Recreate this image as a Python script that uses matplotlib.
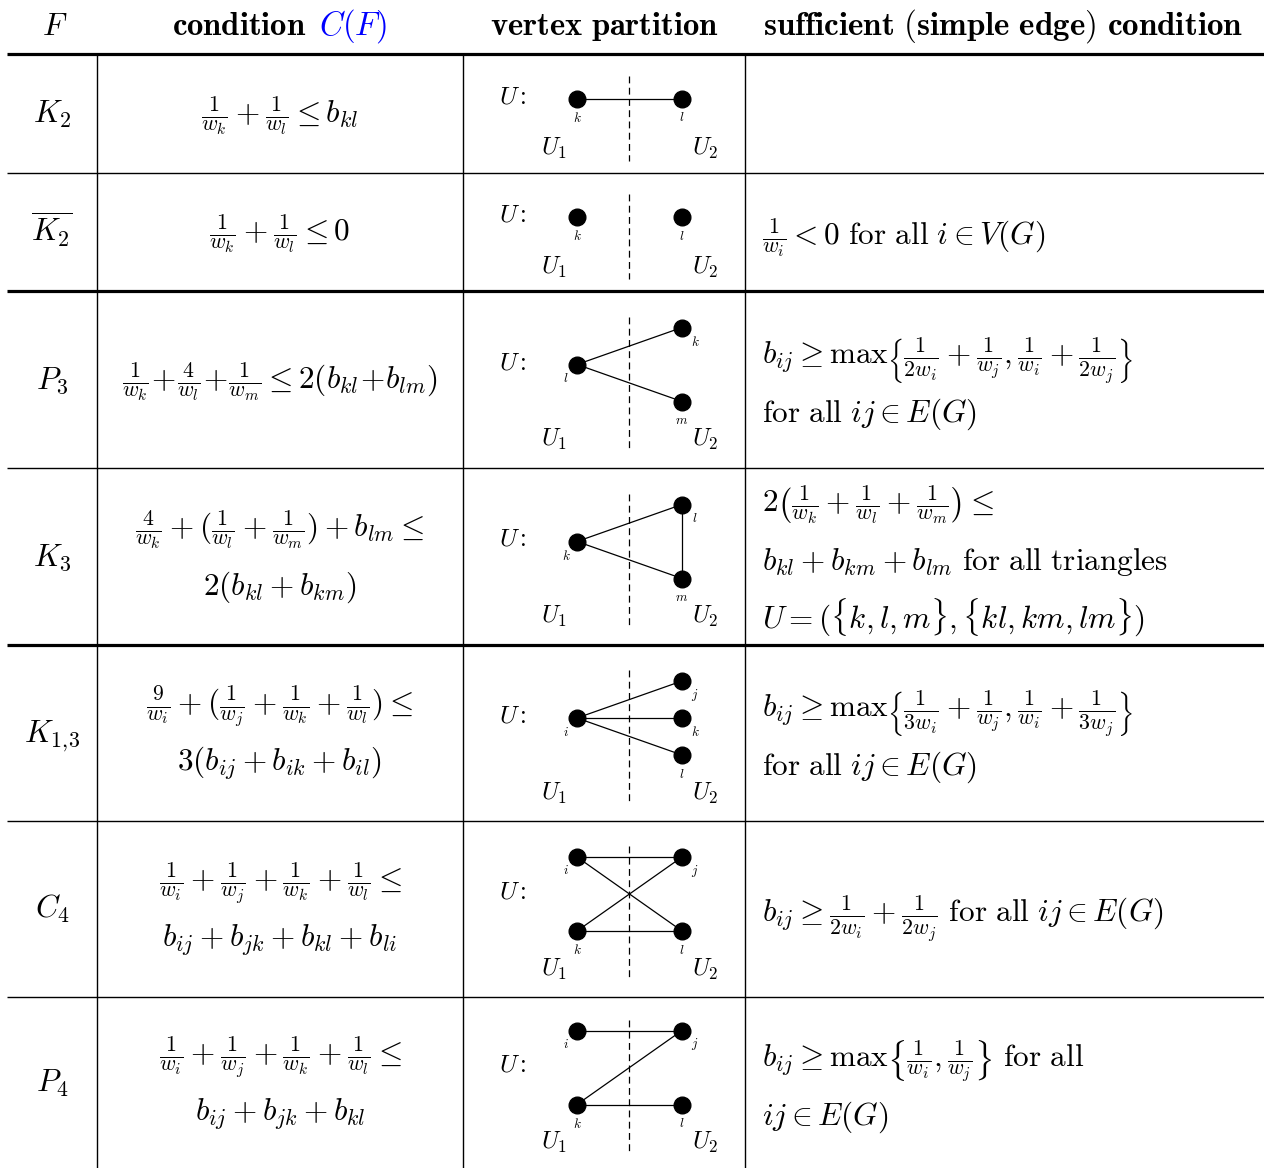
import matplotlib
matplotlib.use("Agg")
import matplotlib.pyplot as plt

plt.rcParams["mathtext.fontset"] = "cm"
plt.rcParams["font.family"] = "serif"

# ---- table content ----
families = [r"$K_2$", r"$\overline{K_2}$", r"$P_3$", r"$K_3$", r"$K_{1,\!3}$", r"$C_4$", r"$P_4$"]

conditions = [
    [r"$\frac{1}{w_k}+\frac{1}{w_l}\leq b_{kl}$"],
    [r"$\frac{1}{w_k}+\frac{1}{w_l}\leq 0$"],
    [r"$\frac{1}{w_k}\!+\!\frac{4}{w_l}\!+\!\frac{1}{w_m}\leq 2(b_{kl}\!+\!b_{lm})$"],
    [r"$\frac{4}{w_k}+(\frac{1}{w_l}+\frac{1}{w_m})+b_{lm}\leq$", r"$2(b_{kl}+b_{km})$"],
    [r"$\frac{9}{w_i}+(\frac{1}{w_j}+\frac{1}{w_k}+\frac{1}{w_l})\leq$", r"$3(b_{ij}+b_{ik}+b_{il})$"],
    [r"$\frac{1}{w_i}+\frac{1}{w_j}+\frac{1}{w_k}+\frac{1}{w_l}\leq$", r"$b_{ij}+b_{jk}+b_{kl}+b_{li}$"],
    [r"$\frac{1}{w_i}+\frac{1}{w_j}+\frac{1}{w_k}+\frac{1}{w_l}\leq$", r"$b_{ij}+b_{jk}+b_{kl}$"],
]

sufficient = [
    [],
    [r"$\frac{1}{w_i}<0\ \mathrm{for\ all}\ i\in V(G)$"],
    [r"$b_{ij}\geq\max\left\{\frac{1}{2w_i}+\frac{1}{w_j},\frac{1}{w_i}+\frac{1}{2w_j}\right\}$",
     r"$\mathrm{for\ all}\ ij\in E(G)$"],
    [r"$2\left(\frac{1}{w_k}+\frac{1}{w_l}+\frac{1}{w_m}\right)\leq$",
     r"$b_{kl}+b_{km}+b_{lm}\ \mathrm{for\ all\ triangles}$",
     r"$U=(\{k,l,m\},\{kl,km,lm\})$"],
    [r"$b_{ij}\geq\max\left\{\frac{1}{3w_i}+\frac{1}{w_j},\frac{1}{w_i}+\frac{1}{3w_j}\right\}$",
     r"$\mathrm{for\ all}\ ij\in E(G)$"],
    [r"$b_{ij}\geq\frac{1}{2w_i}+\frac{1}{2w_j}\ \mathrm{for\ all}\ ij\in E(G)$"],
    [r"$b_{ij}\geq\max\left\{\frac{1}{w_i},\frac{1}{w_j}\right\}\ \mathrm{for\ all}$",
     r"$ij\in E(G)$"],
]

# graphs: vertices in U1 and U2 (top to bottom) and edges
left_vertices = [["k"], ["k"], ["l"], ["k"], ["i"], ["i", "k"], ["i", "k"]]
right_vertices = [["l"], ["l"], ["k", "m"], ["l", "m"], ["j", "k", "l"], ["j", "l"], ["j", "l"]]
edges = [
    [("k", "l")],
    [],
    [("l", "k"), ("l", "m")],
    [("k", "l"), ("k", "m"), ("l", "m")],
    [("i", "j"), ("i", "k"), ("i", "l")],
    [("i", "j"), ("k", "l"), ("i", "l"), ("k", "j")],
    [("i", "j"), ("j", "k"), ("k", "l")],
]

# ---- layout (pixels) ----
W, H = 1264, 1168
row_lines = [54, 173, 291, 468, 645, 821, 997, 1168]
thick_lines = [54, 291, 645]
col_lines = [97, 463, 745]
fs = 22.5
hfs = 23.5
line_gap = 58

fig = plt.figure(figsize=(W / 100, H / 100), dpi=100)
ax = fig.add_axes([0, 0, 1, 1])
ax.set_xlim(0, W)
ax.set_ylim(H, 0)
ax.axis("off")

# header
ax.text(42, 35, r"$F$", fontsize=fs, ha="left", va="baseline")
ax.text(306, 35, r"$\mathbf{condition}$", fontsize=hfs, ha="right", va="baseline")
ax.text(319, 35, r"$C(F)$", fontsize=hfs, ha="left", va="baseline", color="blue")
ax.text(604, 35, r"$\mathbf{vertex\ partition}$", fontsize=hfs, ha="center", va="baseline")
ax.text(1003, 35, r"$\mathbf{sufficient\ (simple\ edge)\ condition}$", fontsize=hfs + 0.3,
        ha="center", va="baseline")

# rules
for y in row_lines[:-1]:
    lw = 2.3 if y in thick_lines else 1.0
    ax.plot([7, W], [y, y], color="black", lw=lw, solid_capstyle="butt")
for x in col_lines:
    ax.plot([x, x], [54, H], color="black", lw=1.0)

for r in range(len(families)):
    top, bot = row_lines[r], row_lines[r + 1]
    cy = (top + bot) / 2

    ax.text(52, cy + 9, families[r], fontsize=fs, ha="center", va="baseline")

    lines = conditions[r]
    n = len(lines)
    for i, s in enumerate(lines):
        y = cy + (i - (n - 1) / 2) * line_gap
        ax.text(280, y + 9, s, fontsize=fs, ha="center", va="baseline")

    lines = sufficient[r]
    n = len(lines)
    for i, s in enumerate(lines):
        y = cy + 4 + (i - (n - 1) / 2) * line_gap
        ax.text(762, y + 9, s, fontsize=fs, ha="left", va="baseline")

    # graph drawing
    gc = cy - 15
    pos = {}
    for side, names, xv in ((0, left_vertices[r], 577), (1, right_vertices[r], 682)):
        k = len(names)
        for i, name in enumerate(names):
            off = 0 if k == 1 else (i / (k - 1) - 0.5) * 74
            pos[name] = (xv, gc + off, side)
    ys = [p[1] for p in pos.values()]
    half = max((max(ys) - min(ys)) / 2, 12)
    label_y = gc + half + 38
    ax.plot([629, 629], [gc - half - 11, label_y + 12], color="black", lw=0.9,
            ls=(0, (5.5, 3.5)))
    for a, b in edges[r]:
        ax.plot([pos[a][0], pos[b][0]], [pos[a][1], pos[b][1]], color="black", lw=0.9)
    for name, (x, y, side) in pos.items():
        ax.plot(x, y, "o", color="black", ms=12, zorder=5)
        if y == max(ys):
            ax.text(x, y + 19, "$" + name + "$", fontsize=9.5, ha="center", va="center")
        else:
            dx = -11 if side == 0 else 13
            ax.text(x + dx, y + 14, "$" + name + "$", fontsize=9.5, ha="center", va="center")
    ax.text(499, gc - 2, r"$U\,\colon$", fontsize=18, ha="left", va="center")
    ax.text(554, label_y, r"$U_1$", fontsize=17.5, ha="center", va="center")
    ax.text(705, label_y, r"$U_2$", fontsize=17.5, ha="center", va="center")

fig.savefig("out.png", dpi=100)
